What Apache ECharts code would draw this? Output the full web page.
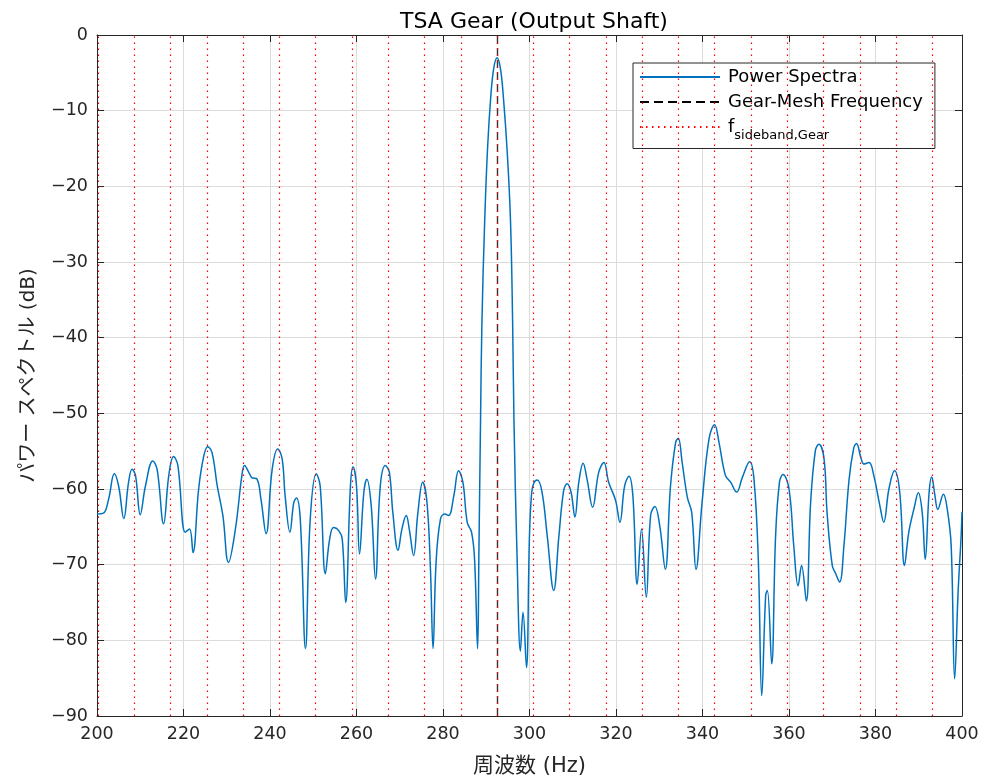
<!DOCTYPE html>
<html>
<head>
<meta charset="utf-8">
<script src="https://cdn.jsdelivr.net/npm/echarts@6/dist/echarts.min.js"></script>
<style>
html,body{margin:0;padding:0;background:#fff;}
#chart{width:984px;height:784px;}
</style>
</head>
<body>
<div id="chart"></div>
<script>
// ---- data ----
const freq = [
200.0,201.5,202.7,204.0,205.0,206.2,207.3,208.1,208.9,210.0,
211.2,212.9,213.9,215.4,216.6,217.7,218.7,220.4,221.4,222.2,
223.5,224.7,225.6,226.6,227.8,229.1,230.4,232.0,233.5,234.1,
235.1,235.8,237.0,237.9,239.1,240.5,241.8,242.8,243.5,244.6,
245.5,246.1,247.0,248.2,249.3,250.7,251.6,252.8,253.8,254.7,
255.9,256.7,257.5,258.6,259.2,260.0,260.7,261.7,262.4,263.4,
264.4,265.5,266.7,267.6,268.4,269.6,270.5,271.5,272.2,273.2,
274.2,275.3,276.3,277.1,277.7,278.4,279.4,280.4,281.3,282.5,
283.6,284.6,285.6,286.6,287.3,288.0,288.3,288.7,289.0,289.65,
290.3,291.0,291.7,292.5,293.3,294.0,294.8,295.6,296.1,296.4,
297.1,297.9,298.5,299.3,300.0,300.5,301.0,301.8,302.9,304.1,
305.6,306.8,307.9,308.7,309.6,310.5,311.4,312.4,313.3,314.6,
316.0,317.2,318.3,319.9,320.9,322.0,323.0,323.9,324.9,325.9,
327.0,328.0,329.0,330.1,331.4,332.6,333.8,334.4,335.3,336.5,
337.5,338.5,339.9,341.5,342.8,343.8,345.3,346.5,347.9,349.2,
350.9,351.9,352.9,353.7,354.6,355.0,356.0,356.9,357.8,358.6,
360.0,361.1,362.1,362.9,364.0,365.0,366.1,366.9,368.1,368.8,
370.0,370.8,371.7,372.7,373.9,375.0,375.6,376.6,377.3,378.5,
379.6,381.0,381.9,383.1,384.4,385.6,386.7,387.7,388.9,389.9,
390.8,391.5,392.4,393.0,393.7,394.4,395.7,396.6,397.5,398.3,
399.1,399.8,400.0
];
const power = [
-63.3,-63.2,-61.3,-58.0,-59.6,-63.9,-59.1,-57.4,-58.2,-63.4,
-59.6,-56.3,-57.4,-64.6,-58.2,-55.7,-56.9,-65.7,-65.3,-68.4,
-60.0,-55.6,-54.4,-55.2,-59.6,-63.5,-69.7,-65.3,-58.2,-56.9,
-57.8,-58.5,-58.7,-61.3,-65.9,-57.4,-54.7,-56.0,-60.9,-65.7,
-61.8,-61.2,-64.0,-81.1,-64.0,-58.0,-59.6,-71.2,-66.6,-65.1,
-65.5,-66.6,-75.0,-59.6,-57.1,-59.6,-68.6,-60.4,-58.7,-62.2,
-71.9,-59.6,-56.9,-57.8,-63.1,-68.1,-65.3,-63.5,-65.3,-68.8,
-63.1,-59.1,-61.8,-70.6,-81.1,-69.7,-64.0,-63.3,-63.5,-60.9,
-57.6,-59.1,-64.4,-65.7,-69.3,-81.1,-68.4,-50.0,-38.0,-24.4,
-15.0,-8.5,-4.5,-3.0,-4.5,-8.5,-15.0,-24.4,-38.0,-50.7,
-68.4,-81.4,-76.3,-83.6,-66.0,-60.5,-59.2,-58.8,-60.4,-66.2,
-73.4,-66.2,-60.2,-59.3,-60.4,-63.7,-59.1,-56.6,-58.7,-62.4,
-57.8,-56.5,-59.1,-61.5,-64.4,-59.6,-58.3,-60.9,-72.6,-65.3,
-74.3,-63.5,-62.3,-64.8,-70.6,-59.6,-53.8,-53.3,-56.5,-61.1,
-63.1,-70.6,-61.8,-53.4,-51.5,-53.8,-58.2,-59.1,-60.4,-58.5,
-56.4,-58.7,-69.3,-87.3,-74.1,-73.4,-83.1,-66.2,-59.1,-58.1,
-60.0,-67.5,-72.8,-70.1,-74.8,-61.8,-54.9,-54.1,-56.0,-63.1,
-70.1,-71.2,-72.3,-67.5,-58.7,-54.5,-54.0,-55.8,-56.7,-56.5,
-58.2,-62.2,-64.4,-60.0,-57.6,-60.4,-70.1,-65.7,-62.6,-60.5,
-63.1,-69.3,-60.4,-58.4,-60.7,-62.7,-60.7,-62.7,-67.5,-85.1,
-73.6,-66.2,-63.0
];
const gearMeshFreq = 292.5;
const sidebandFreqs = [
200.24,208.63,217.01,225.40,233.79,242.18,250.56,258.95,267.34,275.73,284.11,
292.5,300.89,309.27,317.66,326.05,334.44,342.82,351.21,359.60,367.99,376.37,384.76,393.15
];
const xTicks = {min:200, max:400, step:20};
const yTicks = {min:-90, max:0, step:10};

const spectrum = freq.map((f,i)=>[f, power[i]]);
const FONT = '"DejaVu Sans","Noto Sans CJK JP",sans-serif';
const minusFmt = v => String(v).replace('-', '\u2212');

const chart = echarts.init(document.getElementById('chart'), null, {renderer:'canvas'});
const axisColor = '#262626';
const baseX = {
  type:'value', min:xTicks.min, max:xTicks.max, interval:xTicks.step,
  axisLine:{show:true, onZero:false, lineStyle:{color:axisColor, width:1}},
  axisTick:{show:true, inside:true, length:7, lineStyle:{color:axisColor}},
};
const baseY = {
  type:'value', min:yTicks.min, max:yTicks.max, interval:yTicks.step,
  axisLine:{show:true, onZero:false, lineStyle:{color:axisColor, width:1}},
  axisTick:{show:true, inside:true, length:7, lineStyle:{color:axisColor}},
};
chart.setOption({
  animation:false,
  backgroundColor:'#fff',
  title:{
    text:'TSA Gear (Output Shaft)', left:529, top:6, textAlign:'center',
    textStyle:{fontFamily:FONT, fontSize:22, fontWeight:'normal', color:'#000'}
  },
  grid:{left:97, top:35, right:22, bottom:68, containLabel:false},
  legend:{
    orient:'vertical', left:633, top:63,
    padding:[5,12,6,6], itemGap:7, itemWidth:80, itemHeight:14,
    backgroundColor:'#fff', borderColor:axisColor, borderWidth:1, borderRadius:0,
    itemStyle:{opacity:0, color:'rgba(0,0,0,0)', borderColor:'rgba(0,0,0,0)', borderWidth:0},
    data:['Power Spectra','Gear-Mesh Frequency','sideband'],
    formatter: n => n === 'sideband' ? '{m|f}{s|sideband,Gear}' : n,
    textStyle:{fontFamily:FONT, fontSize:18, color:'#000', padding:[0,0,0,3],
      rich:{
        m:{fontFamily:FONT, fontSize:18, color:'#000'},
        s:{fontFamily:FONT, fontSize:13, color:'#000', padding:[18,0,0,0]}
      }}
  },
  xAxis:[
    Object.assign({}, baseX, {
      position:'bottom', name:'周波数 (Hz)', nameLocation:'middle', nameGap:40,
      nameTextStyle:{fontFamily:FONT, fontSize:21, color:axisColor},
      axisLabel:{fontFamily:FONT, fontSize:17.5, color:axisColor, margin:10},
      splitLine:{show:true, lineStyle:{color:'#dcdcdc', width:1}}
    }),
    Object.assign({}, baseX, {
      position:'top', axisLabel:{show:false}, splitLine:{show:false}
    })
  ],
  yAxis:[
    Object.assign({}, baseY, {
      position:'left', name:'パワー スペクトル (dB)', nameLocation:'middle', nameGap:58, nameRotate:90,
      nameTextStyle:{fontFamily:FONT, fontSize:20, color:axisColor},
      axisLabel:{fontFamily:FONT, fontSize:17.5, color:axisColor, margin:9, formatter:minusFmt},
      splitLine:{show:true, lineStyle:{color:'#dcdcdc', width:1}}
    }),
    Object.assign({}, baseY, {
      position:'right', axisLabel:{show:false}, splitLine:{show:false}
    })
  ],
  series:[
    {
      name:'Power Spectra', type:'line', data:spectrum, xAxisIndex:0, yAxisIndex:0,
      symbol:'none', smooth:0.4, z:3,
      lineStyle:{color:'#0072BD', width:1.5}, itemStyle:{color:'#0072BD'}
    },
    {
      name:'Gear-Mesh Frequency', type:'line', data:[], symbol:'none', z:4,
      lineStyle:{color:'#000', width:1.4, type:[9,5]}, itemStyle:{color:'#000'},
      markLine:{
        silent:true, symbol:'none', animation:false, label:{show:false},
        lineStyle:{color:'#333', width:1.4, type:[8,4]},
        data:[{xAxis:gearMeshFreq}]
      }
    },
    {
      name:'sideband', type:'line', data:[], symbol:'none', z:5,
      lineStyle:{color:'#ff0000', width:1.2, type:[1.5,4.5]}, itemStyle:{color:'#ff0000'},
      markLine:{
        silent:true, symbol:'none', animation:false, label:{show:false},
        lineStyle:{color:'#ff0000', width:1.2, type:[1.5,4.5]},
        data:sidebandFreqs.map(v=>({xAxis:v}))
      }
    }
  ]
});
</script>
</body>
</html>
